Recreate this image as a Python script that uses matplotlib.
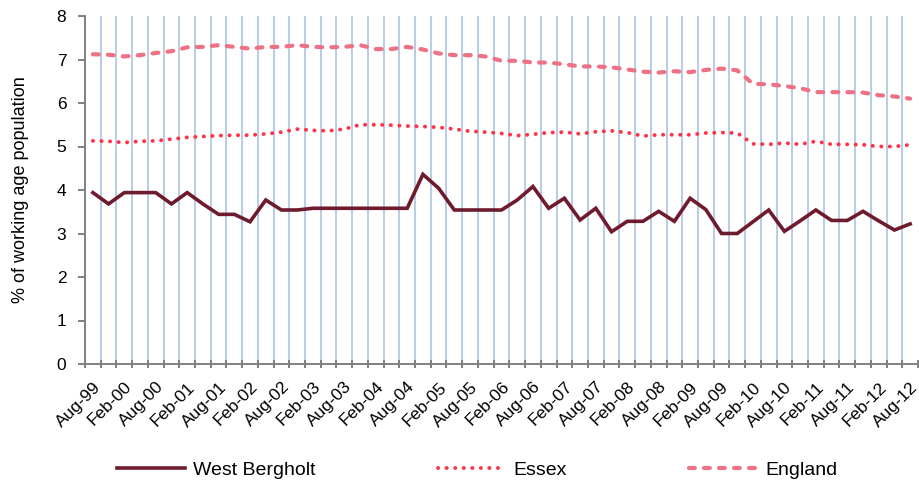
import matplotlib
matplotlib.use("Agg")
import matplotlib.pyplot as plt
import numpy as np

plt.rcParams['font.family'] = ['Liberation Sans', 'DejaVu Sans']

tick_labels = ["Aug-99", "Feb-00", "Aug-00", "Feb-01", "Aug-01", "Feb-02", "Aug-02",
               "Feb-03", "Aug-03", "Feb-04", "Aug-04", "Feb-05", "Aug-05", "Feb-06",
               "Aug-06", "Feb-07", "Aug-07", "Feb-08", "Aug-08", "Feb-09", "Aug-09",
               "Feb-10", "Aug-10", "Feb-11", "Aug-11", "Feb-12", "Aug-12"]

west_bergholt = [3.94, 3.68, 3.94, 3.94, 3.94, 3.68, 3.94, 3.68, 3.44, 3.44,
                 3.27, 3.77, 3.54, 3.54, 3.58, 3.58, 3.58, 3.58, 3.58, 3.58,
                 3.58, 4.36, 4.04, 3.54, 3.54, 3.54, 3.54, 3.77, 4.08, 3.58,
                 3.81, 3.31, 3.58, 3.04, 3.28, 3.28, 3.51, 3.28, 3.81, 3.55,
                 3.00, 3.00, 3.27, 3.54, 3.05, 3.29, 3.54, 3.30, 3.30, 3.51,
                 3.29, 3.08, 3.22]

essex = [5.13, 5.12, 5.09, 5.12, 5.13, 5.17, 5.21, 5.23, 5.25, 5.26,
         5.26, 5.29, 5.33, 5.40, 5.37, 5.36, 5.40, 5.50, 5.50, 5.49,
         5.47, 5.46, 5.44, 5.40, 5.35, 5.33, 5.30, 5.25, 5.28, 5.32,
         5.33, 5.29, 5.34, 5.36, 5.32, 5.24, 5.27, 5.27, 5.27, 5.31,
         5.32, 5.31, 5.06, 5.05, 5.08, 5.05, 5.12, 5.05, 5.05, 5.04,
         5.00, 5.00, 5.04]

england = [7.12, 7.11, 7.07, 7.10, 7.15, 7.19, 7.28, 7.29, 7.33, 7.29,
           7.25, 7.29, 7.29, 7.33, 7.29, 7.28, 7.29, 7.33, 7.24, 7.24,
           7.29, 7.23, 7.14, 7.10, 7.10, 7.07, 6.97, 6.97, 6.93, 6.93,
           6.89, 6.84, 6.84, 6.82, 6.77, 6.72, 6.70, 6.73, 6.71, 6.76,
           6.79, 6.75, 6.44, 6.43, 6.39, 6.34, 6.25, 6.25, 6.25, 6.24,
           6.18, 6.15, 6.10]

n = len(west_bergholt)
x = np.arange(n)

fig = plt.figure(figsize=(9.19, 4.88), dpi=100)
ax = fig.add_axes([85 / 919, 1 - 364 / 488, 833 / 919, (364 - 16) / 488])

grid_color = "#B9CDE5"
for b in np.arange(0.5, n - 0.5, 1.0):
    ax.axvline(b, color=grid_color, lw=1.45, zorder=1)

ax.plot(x, west_bergholt, color="#6E1B2E", lw=2.6, solid_joinstyle='miter',
        label="West Bergholt", zorder=4)
ax.plot(x, essex, color="#FF3347", lw=2.8, linestyle=(0, (0.05, 2.15)),
        dash_capstyle='round', label="Essex", zorder=3)
ax.plot(x, england, color="#EE7285", lw=3.0, linestyle=(0, (1.4, 2.2)),
        dash_capstyle='round', label="England", zorder=3)

ax.set_xlim(-0.5, n - 0.5)
ax.set_ylim(0, 8)
ax.set_yticks(range(0, 9))
ax.tick_params(axis='y', labelsize=12.5, length=5, color="#808080", width=1.4, pad=8.5)

ax.set_xticks(np.arange(-0.5, n, 1.0))
ax.set_xticklabels([])
ax.tick_params(axis='x', which='major', length=6, direction='inout',
               color="#808080", width=1.4)
ax.set_xticks(np.arange(0, n, 2), minor=True)
ax.set_xticklabels(tick_labels, minor=True, rotation=45, ha='right',
                   rotation_mode='anchor', fontsize=12.5)
ax.tick_params(axis='x', which='minor', length=0, pad=11)

for s in ['top', 'right']:
    ax.spines[s].set_visible(False)
for s in ['left', 'bottom']:
    ax.spines[s].set_color("#808080")
    ax.spines[s].set_linewidth(1.4)

ax.set_ylabel("% of working age population", fontsize=13, labelpad=20)

fig.legend(loc='center', bbox_to_anchor=(0.519, 1 - 470 / 488),
           ncol=3, frameon=False, fontsize=14, handlelength=3.5,
           handletextpad=0.4, columnspacing=6.3)

fig.savefig("out.png", dpi=100)
